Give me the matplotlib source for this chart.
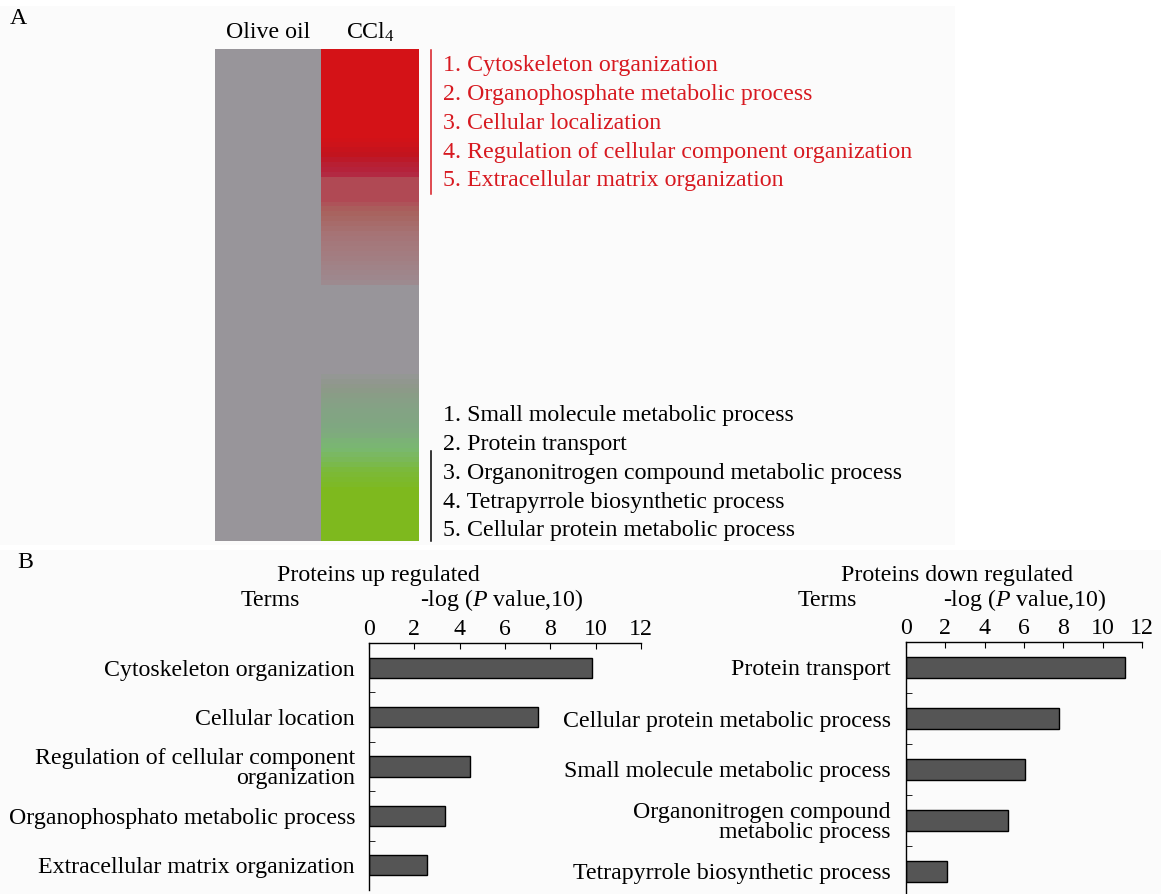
import numpy as np
import matplotlib
matplotlib.use('Agg')
import matplotlib.pyplot as plt
from matplotlib.colors import LinearSegmentedColormap
from matplotlib.patches import Rectangle

plt.rcParams['font.family'] = ['Liberation Serif', 'DejaVu Serif']
plt.rcParams['mathtext.fontset'] = 'custom'
plt.rcParams['mathtext.rm'] = 'Liberation Serif'
plt.rcParams['mathtext.it'] = 'Liberation Serif:italic'

W, H = 1161, 894
FS = 17.2
RED = '#d71920'

# heatmap: CCl4 level for each block of rows (olive oil is the baseline)
groups = ['Olive oil', 'CCl$_4$']
heat_levels = [1.0, 0.97, 0.94, 0.9, 0.86, 0.8, 0.75, 0.72, 0.68, 0.56,
               0.5, 0.44, 0.4, 0.37, 0.34, 0.31, 0.28, 0.26, 0.24, 0.22,
               0.2, 0.18, 0.16, 0.14, 0.12, 0.1, 0.08, 0.0,
               -0.06, -0.1, -0.14, -0.18, -0.22, -0.25, -0.28, -0.3, -0.32,
               -0.34, -0.36, -0.38, -0.42, -0.48, -0.52, -0.56, -0.6, -0.64,
               -0.68, -0.74, -0.8, -0.86, -0.92, -1.0]
heat_rows = [18, 1, 1, 1, 1, 1, 1, 1, 1, 5,
             1, 1, 1, 1, 1, 1, 1, 1, 1, 1,
             1, 1, 1, 1, 1, 1, 1, 18,
             1, 1, 1, 1, 1, 1, 1, 1, 1,
             1, 1, 1, 1, 1, 1, 1, 1, 1,
             1, 1, 1, 1, 1, 11]
col_widths = [106, 98]

up_go = ['Cytoskeleton organization', 'Organophosphate metabolic process',
         'Cellular localization', 'Regulation of cellular component organization',
         'Extracellular matrix organization']
down_go = ['Small molecule metabolic process', 'Protein transport',
           'Organonitrogen compound metabolic process',
           'Tetrapyrrole biosynthetic process', 'Cellular protein metabolic process']

# GO enrichment, -log10(P)
up_terms = ['Cytoskeleton organization', 'Cellular location',
            'Regulation of cellular component\norganization',
            'Organophosphato metabolic process', 'Extracellular matrix organization']
up_vals = [9.85, 7.45, 4.45, 3.35, 2.55]
down_terms = ['Protein transport', 'Cellular protein metabolic process',
              'Small molecule metabolic process', 'Organonitrogen compound\nmetabolic process',
              'Tetrapyrrole biosynthetic process']
down_vals = [11.15, 7.8, 6.05, 5.2, 2.1]
xticks = [0, 2, 4, 6, 8, 10, 12]

cmap = LinearSegmentedColormap.from_list('ccl4', [
    (0.0, '#7eb91e'), (0.125, '#7bb93a'), (0.225, '#79b870'), (0.325, '#80a682'),
    (0.425, '#8e9889'), (0.5, '#98969b'), (0.55, '#9e878d'), (0.625, '#a5777a'),
    (0.7, '#a8645f'), (0.775, '#b04c56'), (0.85, '#b32540'), (0.925, '#c0141f'),
    (1.0, '#d41217')])


fig = plt.figure(figsize=(W / 100, H / 100), dpi=100)


def px_axes(l, t, r, b):
    return fig.add_axes([l / W, 1 - b / H, (r - l) / W, (b - t) / H])


# page layer for backgrounds, captions and brackets
page = px_axes(0, 0, W, H)
page.set_xlim(0, W)
page.set_ylim(H, 0)
page.axis('off')
page.add_patch(Rectangle((0, 6), 955, 539, color='#fbfbfb', lw=0))
page.add_patch(Rectangle((0, 550), W, H - 550, color='#fbfbfb', lw=0))
page.text(10, 18, 'A', fontsize=FS, va='center', ha='left')
page.text(17, 563, 'B', fontsize=FS, va='center', ha='left')

# heatmap
hm = px_axes(215, 49, 419, 541)
ccl4 = np.repeat(heat_levels, heat_rows)
grid = np.column_stack([np.zeros_like(ccl4), ccl4])
xe = np.concatenate([[0], np.cumsum(col_widths)])
ye = np.arange(len(ccl4) + 1)
hm.pcolormesh(xe, ye, grid, cmap=cmap, vmin=-1, vmax=1, shading='flat')
hm.set_xlim(xe[0], xe[-1])
hm.set_ylim(ye[-1], 0)
hm.axis('off')
for i, g in enumerate(groups):
    page.text(215 + (xe[i] + xe[i + 1]) / 2 * 204 / xe[-1], 32, g,
              fontsize=FS, ha='center', va='center')

page.plot([431, 431], [50, 194], color=RED, lw=1.1)
for i, t in enumerate(up_go):
    page.text(443, 66 + i * 28.7, f'{i + 1}. {t}', fontsize=FS, color=RED, va='center')
page.plot([431, 431], [451, 541], color='black', lw=1.1)
for i, t in enumerate(down_go):
    page.text(443, 416 + i * 28.7, f'{i + 1}. {t}', fontsize=FS, color='black', va='center')


def bar_panel(box, terms, vals, title, cx_title, cx_terms, cx_log, pad):
    ax = px_axes(*box)
    ax.barh(range(len(vals)), vals, height=0.41, color='#555555',
            edgecolor='black', lw=1)
    ax.set_xlim(0, 12)
    ax.set_ylim(len(vals) - 0.5, -0.5)
    ax.set_facecolor('none')
    ax.xaxis.tick_top()
    ax.set_xticks(xticks)
    ax.tick_params(axis='x', direction='in', length=4, labelsize=FS, pad=2)
    ax.set_yticks(range(len(terms)))
    ax.set_yticklabels(terms, fontsize=FS, linespacing=0.95)
    ax.set_yticks(np.arange(0.5, len(terms) - 1, 1), minor=True)
    ax.tick_params(axis='y', which='major', length=0, pad=pad)
    ax.tick_params(axis='y', which='minor', direction='in', length=4)
    for s in ['right', 'bottom']:
        ax.spines[s].set_visible(False)
    for s in ['left', 'top']:
        ax.spines[s].set_linewidth(1)
    page.text(cx_title, 575, title, fontsize=FS, ha='center', va='center')
    page.text(cx_terms, 600, 'Terms', fontsize=FS, ha='center', va='center')
    page.text(cx_log, 600, r'-log ($P$ value,10)', fontsize=FS, ha='center', va='center')
    return ax


bar_panel((369, 643, 641, 890), up_terms, up_vals, 'Proteins up regulated',
          378, 270, 502, 10)
bar_panel((906, 642, 1142, 897), down_terms, down_vals, 'Proteins down regulated',
          957, 827, 1025, 11)

fig.savefig('out.png', dpi=100)
